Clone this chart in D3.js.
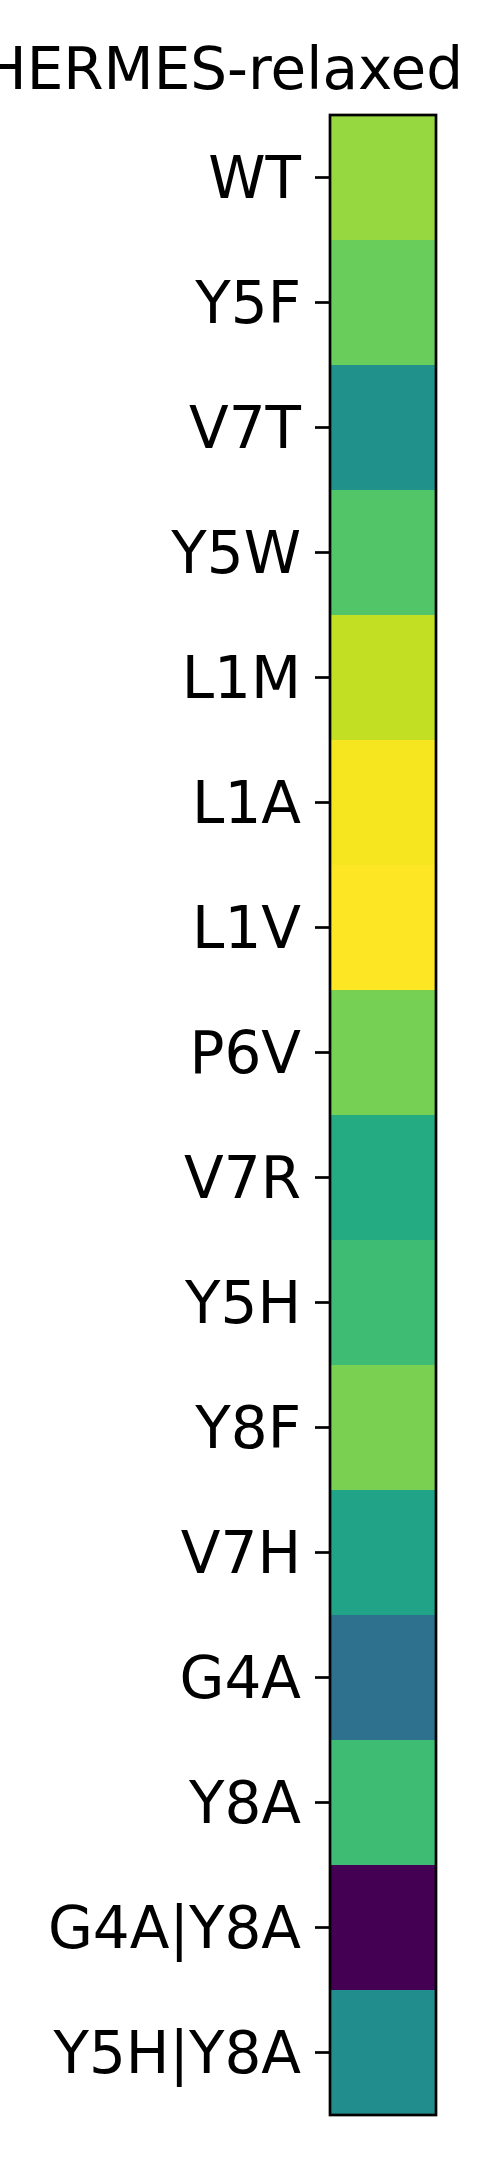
<!DOCTYPE html>
<html>
<head>
<meta charset="utf-8">
<script src="https://cdn.jsdelivr.net/npm/d3@7"></script>
<style>
html, body { margin: 0; padding: 0; background: #fff; }
svg { display: block; }
</style>
</head>
<body>
<svg id="chart" width="480" height="2160"></svg>
<script>
const title = "HERMES-relaxed";
const categories = ["WT", "Y5F", "V7T", "Y5W", "L1M", "L1A", "L1V", "P6V", "V7R", "Y5H", "Y8F", "V7H", "G4A", "Y8A", "G4A|Y8A", "Y5H|Y8A"];
const values = [0.84, 0.77, 0.50, 0.73, 0.91, 0.985, 1.0, 0.79, 0.61, 0.69, 0.80, 0.58, 0.37, 0.69, 0.0, 0.49];

const svg = d3.select("#chart");
const margin = { left: 330, top: 115, right: 44, bottom: 45 };
const W = 480, H = 2160;
const plotW = W - margin.left - margin.right;
const plotH = H - margin.top - margin.bottom;

const y = d3.scaleBand().domain(categories).range([0, plotH]).padding(0);
const color = d3.scaleSequential(d3.interpolateViridis).domain([0, 1]);

const g = svg.append("g").attr("transform", `translate(${margin.left},${margin.top})`);

g.selectAll("rect.cell")
  .data(categories.map((c, i) => ({ c, v: values[i] })))
  .join("rect")
  .attr("class", "cell")
  .attr("x", 0)
  .attr("width", plotW)
  .attr("y", d => y(d.c))
  .attr("height", y.bandwidth() + 0.5)
  .attr("fill", d => color(d.v));

const axis = d3.axisLeft(y).tickSize(15).tickPadding(14);
const ax = g.append("g").call(axis);
ax.select(".domain").remove();
ax.selectAll(".tick line").attr("stroke", "#000").attr("stroke-width", 2.7);
ax.selectAll(".tick text")
  .attr("fill", "#000")
  .attr("font-family", "DejaVu Sans")
  .attr("font-size", 58)
  .attr("dy", "0.36em");

g.append("rect")
  .attr("x", 0).attr("y", 0)
  .attr("width", plotW).attr("height", plotH)
  .attr("fill", "none")
  .attr("stroke", "#000")
  .attr("stroke-width", 2.7);

svg.append("text")
  .attr("x", 463)
  .attr("y", 89)
  .attr("text-anchor", "end")
  .attr("font-family", "DejaVu Sans")
  .attr("font-size", 58)
  .attr("fill", "#000")
  .text(title);
</script>
</body>
</html>
